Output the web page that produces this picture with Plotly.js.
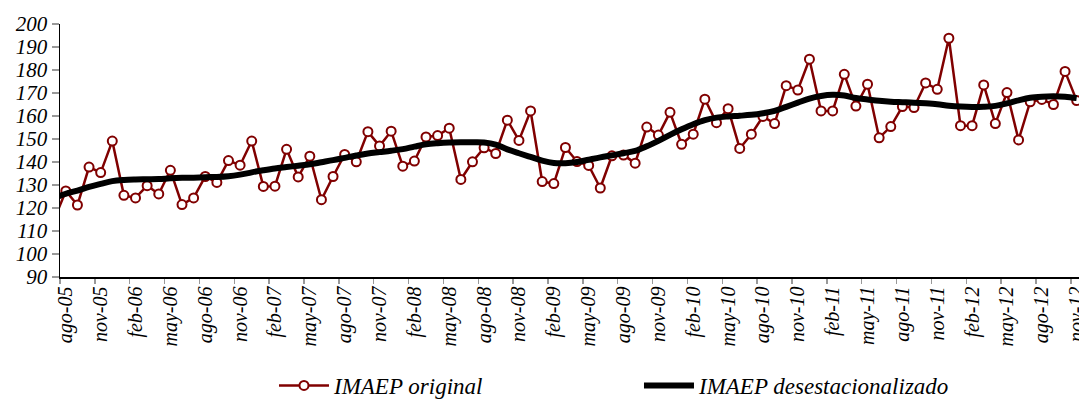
<!DOCTYPE html>
<html>
<head>
<meta charset="utf-8">
<script src="https://cdn.plot.ly/plotly-3.0.1.min.js"></script>
<style>
html,body{margin:0;padding:0;background:#fff;}
#chart{width:1079px;height:407px;}
#chart text{font-style:italic !important;}
</style>
</head>
<body>
<div id="chart"></div>
<script>
// Months (jul-05 lies just left of the visible range)
const months = ["jul-05","ago-05","sep-05","oct-05","nov-05","dic-05",
"ene-06","feb-06","mar-06","abr-06","may-06","jun-06","jul-06","ago-06","sep-06","oct-06","nov-06","dic-06",
"ene-07","feb-07","mar-07","abr-07","may-07","jun-07","jul-07","ago-07","sep-07","oct-07","nov-07","dic-07",
"ene-08","feb-08","mar-08","abr-08","may-08","jun-08","jul-08","ago-08","sep-08","oct-08","nov-08","dic-08",
"ene-09","feb-09","mar-09","abr-09","may-09","jun-09","jul-09","ago-09","sep-09","oct-09","nov-09","dic-09",
"ene-10","feb-10","mar-10","abr-10","may-10","jun-10","jul-10","ago-10","sep-10","oct-10","nov-10","dic-10",
"ene-11","feb-11","mar-11","abr-11","may-11","jun-11","jul-11","ago-11","sep-11","oct-11","nov-11","dic-11",
"ene-12","feb-12","mar-12","abr-12","may-12","jun-12","jul-12","ago-12","sep-12","oct-12","nov-12"];

const imaepOriginal = [115,
127.4,121.3,137.8,135.4,149.1,
125.5,124.4,129.7,126.1,136.4,121.5,124.4,133.7,131.1,140.6,138.6,149.1,
129.4,129.5,145.5,133.5,142.5,123.6,133.7,143.3,140.1,153.2,147.0,153.4,
138.2,140.4,150.9,151.5,154.7,132.4,140.1,146.2,143.7,158.2,149.4,162.2,
131.5,130.6,146.3,140.2,138.5,128.7,142.7,143.0,139.5,155.2,151.7,161.6,
147.7,152.1,167.3,157.1,163.2,145.9,152.1,159.8,156.7,173.2,171.3,184.7,
162.2,162.2,178.1,164.3,173.8,150.5,155.4,164.1,163.7,174.4,171.6,193.8,
155.8,155.8,173.5,156.7,170.2,149.6,166.2,167.2,165.0,179.4,166.7];

const imaepDesest = [124.3,
126.2,127.6,129.2,130.5,131.7,
132.2,132.4,132.5,132.6,132.9,133.1,133.2,133.4,133.5,133.8,134.5,135.5,
136.4,137.2,137.8,138.4,139.0,139.9,140.8,141.8,142.8,143.7,144.3,144.9,
145.6,146.7,147.7,148.2,148.5,148.6,148.6,148.5,147.6,145.5,143.8,142.2,
140.6,139.6,139.5,140.0,141.0,142.0,142.9,143.8,144.8,146.8,149.2,151.8,
154.2,156.4,158.2,159.3,159.8,160.1,160.5,161.2,162.2,164.0,165.8,167.6,
168.7,169.2,168.9,167.8,167.2,166.6,166.2,166.0,165.8,165.5,165.1,164.5,
164.1,163.9,164.0,164.4,165.5,166.8,167.9,168.4,168.6,168.4,167.8];

const yTicks = [90,100,110,120,130,140,150,160,170,180,190,200];

const serif = 'Liberation Serif, Times New Roman, serif';
const red = '#800000';

const traces = [
  {
    x: months, y: imaepOriginal, type: 'scatter', mode: 'lines+markers',
    name: 'IMAEP original',
    line: {color: red, width: 2.5},
    marker: {symbol: 'circle', size: 9, color: '#ffffff', line: {color: red, width: 2}}
  },
  {
    x: months, y: imaepDesest, type: 'scatter', mode: 'lines',
    name: 'IMAEP desestacionalizado',
    line: {color: '#000000', width: 6, shape: 'spline', smoothing: 1}
  }
];

const layout = {
  width: 1079, height: 407,
  margin: {l: 60, r: 0, t: 24, b: 128},
  paper_bgcolor: '#ffffff', plot_bgcolor: '#ffffff',
  font: {family: serif, color: '#000000', size: 20, style: 'italic'},
  showlegend: true,
  legend: {
    orientation: 'h', x: 0.21, xanchor: 'left', y: -0.43, yanchor: 'middle',
    font: {family: serif, size: 23, color: '#000000', style: 'italic'},
    entrywidth: 300, itemwidth: 50, bgcolor: 'rgba(0,0,0,0)'
  },
  xaxis: {
    type: 'category',
    range: [0.5, 88.2],
    tickmode: 'linear', tick0: 1, dtick: 3,
    tickson: 'boundaries',
    tickangle: -90,
    ticks: 'outside', ticklen: 5, tickwidth: 1.5, tickcolor: '#999999',
    showline: true, linecolor: '#000000', linewidth: 1.5,
    showgrid: false, zeroline: false,
    tickfont: {family: serif, size: 20, color: '#000000', style: 'italic'}
  },
  yaxis: {
    range: [90, 200],
    tickmode: 'array', tickvals: yTicks, ticktext: yTicks.map(String),
    ticks: 'outside', ticklen: 7, tickwidth: 1.5, tickcolor: '#999999',
    showline: true, linecolor: '#000000', linewidth: 1.5,
    showgrid: false, zeroline: false,
    tickfont: {family: serif, size: 21, color: '#000000', style: 'italic'}
  }
};

Plotly.newPlot('chart', traces, layout, {displayModeBar: false, staticPlot: true});
</script>
</body>
</html>
